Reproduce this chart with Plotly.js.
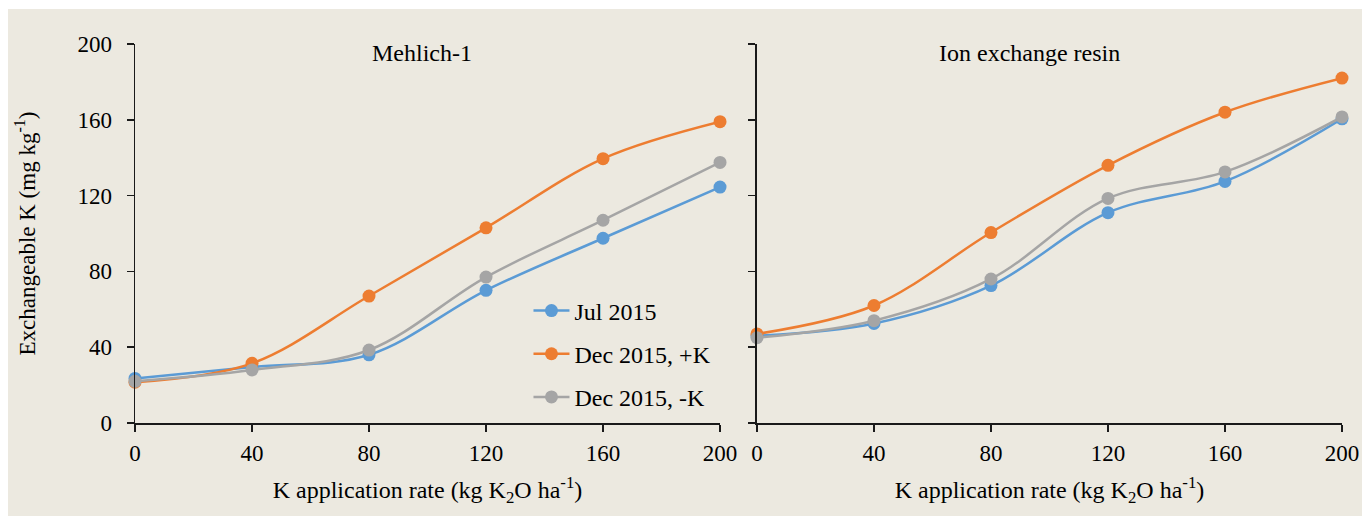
<!DOCTYPE html>
<html>
<head>
<meta charset="utf-8">
<script src="https://cdn.plot.ly/plotly-3.0.1.min.js"></script>
<style>
html,body{margin:0;padding:0;background:#ffffff;width:1362px;height:516px;overflow:hidden;}
#chart{position:absolute;left:8px;top:9px;width:1354px;height:507px;}
</style>
</head>
<body>
<div id="chart"></div>
<script>
// K application rate (kg K2O/ha)
const rates = [0, 40, 80, 120, 160, 200];
const seriesNames = ["Jul 2015", "Dec 2015, +K", "Dec 2015, -K"];
const seriesColors = ["#5B9BD5", "#ED7D31", "#A5A5A5"];
// Mehlich-1 exchangeable K (mg/kg)
const mehlichJul = [23.5, 29.5, 36, 70, 97.5, 124.5];
const mehlichDecPlus = [21.5, 31.5, 67, 103, 139.5, 159];
const mehlichDecMinus = [22, 28, 38.5, 77, 107, 137.5];
// Ion exchange resin exchangeable K (mg/kg)
const resinJul = [46, 52.5, 72.5, 111, 127.5, 160.5];
const resinDecPlus = [47, 62, 100.5, 136, 164, 182];
const resinDecMinus = [45, 54, 76, 118.5, 132.5, 161.5];
const panelTitles = ["Mehlich-1", "Ion exchange resin"];
const xTicks = [0, 40, 80, 120, 160, 200];
const yTicks = [0, 40, 80, 120, 160, 200];

const FONT = "'Liberation Serif', 'Times New Roman', serif";
const mehlich = [mehlichJul, mehlichDecPlus, mehlichDecMinus];
const resin = [resinJul, resinDecPlus, resinDecMinus];

const traces = [];
function addPanel(data, xa, ya, showLeg) {
  data.forEach((vals, i) => {
    traces.push({
      x: rates, y: vals, xaxis: xa, yaxis: ya,
      type: 'scatter', mode: 'lines+markers',
      name: seriesNames[i], legendgroup: 'g' + i, showlegend: showLeg,
      line: {color: seriesColors[i], width: 2.5, shape: 'spline', smoothing: 1},
      marker: {color: seriesColors[i], size: 13},
      cliponaxis: false
    });
  });
}
addPanel(mehlich, 'x', 'y', true);
addPanel(resin, 'x2', 'y2', false);

const axisCommon = {
  range: [0, 200], tickvals: xTicks, ticktext: xTicks.map(String),
  showgrid: false, zeroline: false, showline: true, linecolor: '#1a1a1a', linewidth: 1.5,
  ticks: 'outside', ticklen: 7, tickcolor: '#1a1a1a', tickwidth: 1.5,
  tickfont: {family: FONT, size: 23, color: '#000'}, fixedrange: true, ticklabelstandoff: 2
};
const xTitle = {text: 'K application rate (kg K<sub>2</sub>O ha<sup>-1</sup>)', font: {family: FONT, size: 24, color: '#000'}, standoff: 16};

const layout = {
  width: 1354, height: 507,
  paper_bgcolor: '#ECE9E0', plot_bgcolor: 'rgba(0,0,0,0)',
  margin: {l: 127, r: 20, t: 35, b: 93},
  font: {family: FONT, color: '#000'},
  showlegend: true,
  legend: {x: 0.326, y: 0.355, xanchor: 'left', yanchor: 'top', bgcolor: 'rgba(0,0,0,0)',
           font: {family: FONT, size: 24, color: '#000'}, tracegroupgap: 9, itemwidth: 36},
  xaxis: Object.assign({}, axisCommon, {domain: [0, 0.4847], anchor: 'y', title: xTitle}),
  xaxis2: Object.assign({}, axisCommon, {domain: [0.5153, 1], anchor: 'y2', title: xTitle}),
  yaxis: Object.assign({}, axisCommon, {range: [0, 200], tickvals: yTicks, ticktext: yTicks.map(String), anchor: 'x', ticklabelstandoff: 10,
     title: {text: 'Exchangeable K (mg kg<sup>-1</sup>)', font: {family: FONT, size: 23, color: '#000'}, standoff: 35}}),
  yaxis2: Object.assign({}, axisCommon, {range: [0, 200], tickvals: yTicks, showticklabels: false, anchor: 'x2'}),
  annotations: [
    {text: panelTitles[0], xref: 'x domain', yref: 'paper', x: 0.49, y: 0.975, xanchor: 'center', yanchor: 'middle', showarrow: false, font: {family: FONT, size: 24, color: '#000'}},
    {text: panelTitles[1], xref: 'x2 domain', yref: 'paper', x: 0.465, y: 0.975, xanchor: 'center', yanchor: 'middle', showarrow: false, font: {family: FONT, size: 24, color: '#000'}}
  ]
};
Plotly.newPlot('chart', traces, layout, {displayModeBar: false, staticPlot: true});
</script>
</body>
</html>
